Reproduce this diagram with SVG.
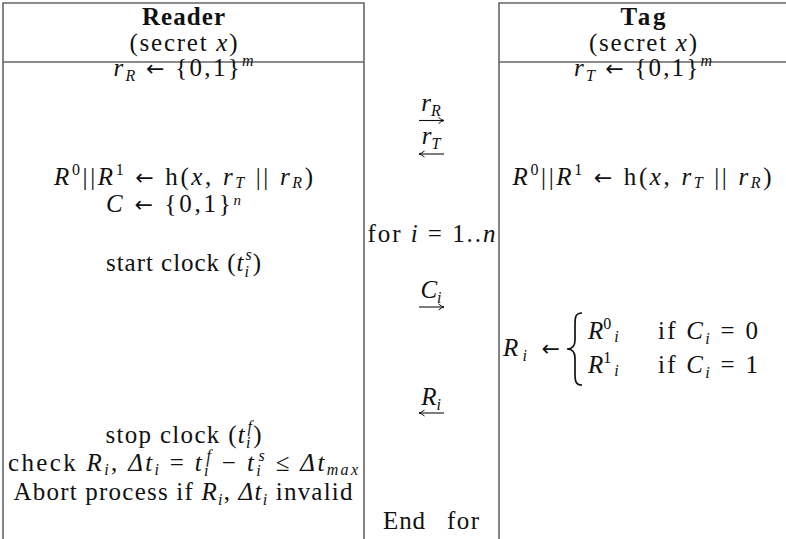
<svg xmlns="http://www.w3.org/2000/svg" width="786" height="539" viewBox="0 0 786 539">
<style>
.t{font-family:"Liberation Serif","Times New Roman",serif;font-size:25px;fill:#111}
.b{font-weight:bold}
.i{font-style:italic}
.s{font-size:16px}
.ar{font-family:"DejaVu Sans",sans-serif;font-size:22px;font-style:normal}
.box{fill:none;stroke:#666;stroke-width:1.6}
.arr{fill:none;stroke:#111;stroke-width:1.1}
.br{fill:none;stroke:#111;stroke-width:1.7}
</style>
<defs>
<marker id="ah" viewBox="0 0 8 8" refX="7.5" refY="4" markerWidth="8" markerHeight="8" markerUnits="userSpaceOnUse" orient="auto">
<path d="M2,1 Q5,3.4 7.5,4 Q5,4.6 2,7" fill="none" stroke="#111" stroke-width="1"/>
</marker>
</defs>
<rect width="786" height="539" fill="#fff"/>

<g id="reader">
<path class="box" d="M3,539 V3 H364 V539 M3,62 H364"/>
<text class="t b" x="183.5" y="25" text-anchor="middle" textLength="83" lengthAdjust="spacing">Reader</text>
<text class="t" x="183.5" y="51" text-anchor="middle" textLength="108" lengthAdjust="spacing">(secret <tspan class="i">x</tspan>)</text>
<text class="t" x="183.5" y="76" text-anchor="middle" textLength="140" lengthAdjust="spacing"><tspan class="i">r</tspan><tspan class="i s" dy="5">R</tspan><tspan dy="-5"> </tspan><tspan class="ar">←</tspan><tspan> {0,1}</tspan><tspan class="i s" dy="-10">m</tspan></text>
<text class="t" x="183.5" y="185" text-anchor="middle" textLength="259" lengthAdjust="spacing"><tspan class="i">R</tspan><tspan class="s" dy="-10">0</tspan><tspan dy="10">||</tspan><tspan class="i">R</tspan><tspan class="s" dy="-10">1</tspan><tspan dy="10"> </tspan><tspan class="ar">←</tspan><tspan> h(</tspan><tspan class="i">x</tspan><tspan>, </tspan><tspan class="i">r</tspan><tspan class="i s" dy="3">T</tspan><tspan dy="-3"> || </tspan><tspan class="i">r</tspan><tspan class="i s" dy="3">R</tspan><tspan dy="-3">)</tspan></text>
<text class="t" x="173.5" y="212" text-anchor="middle" textLength="135" lengthAdjust="spacing"><tspan class="i">C</tspan><tspan> </tspan><tspan class="ar">←</tspan><tspan> {0,1}</tspan><tspan class="i" style="font-size:15px" dy="-7">n</tspan></text>
<text class="t" x="183.5" y="271" text-anchor="middle" textLength="155" lengthAdjust="spacing"><tspan>start clock (</tspan><tspan class="i">t</tspan><tspan class="i s" dy="6">i</tspan><tspan class="i s" dx="-4.4" dy="-17">s</tspan><tspan dy="11">)</tspan></text>
<text class="t" x="183.5" y="443" text-anchor="middle" textLength="156" lengthAdjust="spacing"><tspan>stop clock (</tspan><tspan class="i">t</tspan><tspan class="i s" dy="5">i</tspan><tspan class="i s" dx="-4.4" dy="-16">f</tspan><tspan dy="11">)</tspan></text>
<text class="t" x="183" y="471" text-anchor="middle" textLength="350" lengthAdjust="spacing"><tspan>check </tspan><tspan class="i">R</tspan><tspan class="i s" dy="4">i</tspan><tspan dy="-4">, </tspan><tspan class="i">Δt</tspan><tspan class="i s" dy="4">i</tspan><tspan dy="-4"> = </tspan><tspan class="i">t</tspan><tspan class="i s" dy="5">i</tspan><tspan class="i s" dx="-4.4" dy="-15">f</tspan><tspan dy="10"> − </tspan><tspan class="i">t</tspan><tspan class="i s" dy="5">i</tspan><tspan class="i s" dx="-4.4" dy="-15">s</tspan><tspan dy="10"> ≤ </tspan><tspan class="i">Δt</tspan><tspan class="i s" dy="4">max</tspan></text>
<text class="t" x="183" y="500" text-anchor="middle" textLength="339" lengthAdjust="spacing"><tspan>Abort process if </tspan><tspan class="i">R</tspan><tspan class="i s" dy="5">i</tspan><tspan dy="-5">, </tspan><tspan class="i">Δt</tspan><tspan class="i s" dy="5">i</tspan><tspan dy="-5"> invalid</tspan></text>
</g>

<g id="channel">
<text class="t" x="431" y="111" text-anchor="middle"><tspan class="i">r</tspan><tspan class="i s" dy="5">R</tspan></text>
<text class="t" x="431" y="144" text-anchor="middle"><tspan class="i">r</tspan><tspan class="i s" dy="5">T</tspan></text>
<text class="t" x="431.5" y="242" text-anchor="middle" textLength="128" lengthAdjust="spacing"><tspan>for   </tspan><tspan class="i">i</tspan><tspan> = 1..</tspan><tspan class="i">n</tspan></text>
<text class="t" x="431" y="298" text-anchor="middle"><tspan class="i">C</tspan><tspan class="i s" dy="5">i</tspan></text>
<text class="t" x="431" y="405" text-anchor="middle"><tspan class="i">R</tspan><tspan class="i s" dy="5">i</tspan></text>
<text class="t" x="383" y="529" textLength="42" lengthAdjust="spacing">End</text>
<text class="t" x="479" y="529" text-anchor="end" textLength="32" lengthAdjust="spacing">for</text>
</g>

<g id="tag">
<path class="box" d="M499,539 V3 H787 M499,62 H787"/>
<text class="t b" x="643" y="25" text-anchor="middle" textLength="45" lengthAdjust="spacing">Tag</text>
<text class="t" x="643" y="51" text-anchor="middle" textLength="108" lengthAdjust="spacing">(secret <tspan class="i">x</tspan>)</text>
<text class="t" x="643" y="76" text-anchor="middle" textLength="138" lengthAdjust="spacing"><tspan class="i">r</tspan><tspan class="i s" dy="5">T</tspan><tspan dy="-5"> </tspan><tspan class="ar">←</tspan><tspan> {0,1}</tspan><tspan class="i s" dy="-10">m</tspan></text>
<text class="t" x="642" y="185" text-anchor="middle" textLength="259" lengthAdjust="spacing"><tspan class="i">R</tspan><tspan class="s" dy="-10">0</tspan><tspan dy="10">||</tspan><tspan class="i">R</tspan><tspan class="s" dy="-10">1</tspan><tspan dy="10"> </tspan><tspan class="ar">←</tspan><tspan> h(</tspan><tspan class="i">x</tspan><tspan>, </tspan><tspan class="i">r</tspan><tspan class="i s" dy="3">T</tspan><tspan dy="-3"> || </tspan><tspan class="i">r</tspan><tspan class="i s" dy="3">R</tspan><tspan dy="-3">)</tspan></text>
<text class="t" x="503" y="356" textLength="57" lengthAdjust="spacing"><tspan class="i">R</tspan><tspan class="i s" dy="5">i</tspan><tspan dy="-5"> </tspan><tspan class="ar">←</tspan></text>
<path class="br" d="M582,313 C575,313 575,318 575,325 L575,340 C575,346 572,349 567,349 C572,349 575,352 575,358 L575,373 C575,380 575,385 582,385"/>
<text class="t" x="588" y="339"><tspan class="i">R</tspan><tspan class="s" dy="-10">0</tspan><tspan class="i s" dx="3" dy="13">i</tspan></text>
<text class="t" x="658" y="339" textLength="100" lengthAdjust="spacing"><tspan>if   </tspan><tspan class="i">C</tspan><tspan class="i s" dy="5">i</tspan><tspan dy="-5"> = 0</tspan></text>
<text class="t" x="588" y="373"><tspan class="i">R</tspan><tspan class="s" dy="-10">1</tspan><tspan class="i s" dx="3" dy="13">i</tspan></text>
<text class="t" x="658" y="373" textLength="100" lengthAdjust="spacing"><tspan>if   </tspan><tspan class="i">C</tspan><tspan class="i s" dy="5">i</tspan><tspan dy="-5"> = 1</tspan></text>
</g>

<g id="connectors">
<path class="arr" d="M419,120.5 H444" marker-end="url(#ah)"/>
<path class="arr" d="M444,154 H419" marker-end="url(#ah)"/>
<path class="arr" d="M419,307 H444" marker-end="url(#ah)"/>
<path class="arr" d="M444,413 H419" marker-end="url(#ah)"/>
</g>
</svg>
